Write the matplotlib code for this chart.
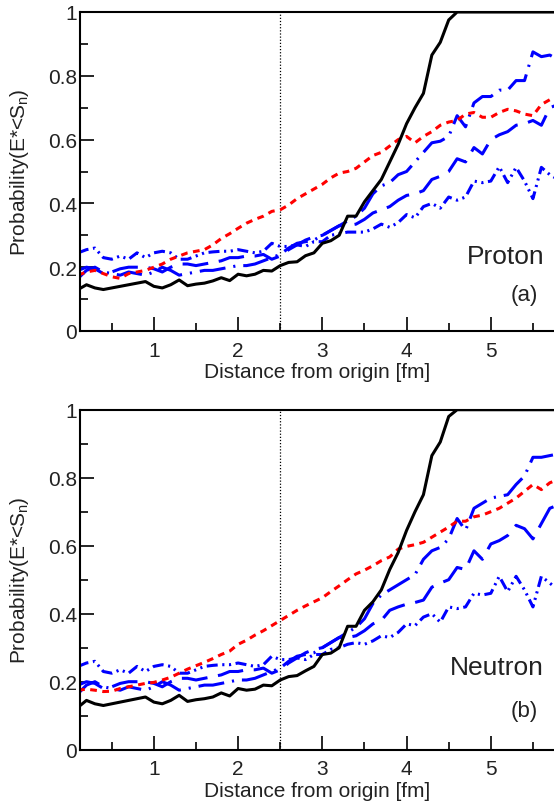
import numpy as np
import matplotlib
matplotlib.use("Agg")
import matplotlib.pyplot as plt
from matplotlib.ticker import MultipleLocator

plt.rcParams['font.family'] = ['Liberation Sans', 'DejaVu Sans']
plt.rcParams['mathtext.fontset'] = 'custom'
plt.rcParams['mathtext.rm'] = 'Liberation Sans'
plt.rcParams['mathtext.it'] = 'Liberation Sans:italic'
plt.rcParams['mathtext.bf'] = 'Liberation Sans:bold'
plt.rcParams['mathtext.default'] = 'regular'

# radial grid [fm]
r = np.round(np.arange(0.1, 5.85, 0.1), 1)

# ---- proton (a) ----
p_black = [0.13, 0.145, 0.135, 0.13, 0.135, 0.14, 0.145, 0.15, 0.155, 0.14,
           0.135, 0.145, 0.16, 0.142, 0.147, 0.15, 0.157, 0.167, 0.158, 0.178,
           0.173, 0.178, 0.19, 0.188, 0.205, 0.215, 0.217, 0.236, 0.245, 0.275,
           0.283, 0.30, 0.36, 0.36, 0.405, 0.44, 0.475, 0.53, 0.585, 0.65,
           0.70, 0.745, 0.865, 0.905, 0.975, 1.0, 1.0, 1.0, 1.0, 1.0,
           1.0, 1.0, 1.0, 1.0, 1.0, 1.0, 1.0, 1.0]
p_red = [0.175, 0.185, 0.19, 0.18, 0.17, 0.165, 0.18, 0.185, 0.19, 0.20,
         0.21, 0.225, 0.235, 0.245, 0.25, 0.255, 0.27, 0.29, 0.305, 0.322,
         0.338, 0.35, 0.36, 0.375, 0.38, 0.395, 0.415, 0.43, 0.445, 0.46,
         0.48, 0.495, 0.50, 0.51, 0.53, 0.55, 0.56, 0.58, 0.60, 0.61,
         0.59, 0.61, 0.625, 0.645, 0.655, 0.66, 0.68, 0.685, 0.67, 0.67,
         0.685, 0.695, 0.69, 0.68, 0.675, 0.71, 0.725, 0.735]
p_dashdot = [0.165, 0.19, 0.20, 0.185, 0.18, 0.175, 0.185, 0.18, 0.175, 0.185,
             0.20, 0.19, 0.175, 0.18, 0.185, 0.19, 0.19, 0.195, 0.20, 0.205,
             0.205, 0.21, 0.22, 0.23, 0.24, 0.26, 0.275, 0.28, 0.285, 0.30,
             0.315, 0.33, 0.345, 0.36, 0.385, 0.43, 0.455, 0.465, 0.49, 0.50,
             0.53, 0.56, 0.59, 0.595, 0.61, 0.675, 0.64, 0.715, 0.735, 0.735,
             0.755, 0.755, 0.785, 0.785, 0.875, 0.86, 0.865, 0.85]
p_longdash = [0.19, 0.20, 0.195, 0.18, 0.185, 0.195, 0.20, 0.20, 0.20, 0.195,
              0.185, 0.20, 0.21, 0.21, 0.205, 0.21, 0.215, 0.22, 0.23, 0.23,
              0.235, 0.235, 0.24, 0.225, 0.235, 0.255, 0.27, 0.285, 0.295, 0.30,
              0.315, 0.33, 0.33, 0.335, 0.35, 0.37, 0.38, 0.39, 0.41, 0.425,
              0.43, 0.44, 0.475, 0.485, 0.50, 0.54, 0.53, 0.575, 0.555, 0.60,
              0.615, 0.625, 0.645, 0.65, 0.66, 0.645, 0.70, 0.71]
p_dashdotdot = [0.245, 0.255, 0.26, 0.23, 0.225, 0.235, 0.225, 0.245, 0.23, 0.245,
                0.25, 0.245, 0.225, 0.225, 0.235, 0.245, 0.248, 0.25, 0.25, 0.255,
                0.25, 0.245, 0.25, 0.275, 0.265, 0.265, 0.27, 0.265, 0.28, 0.28,
                0.30, 0.305, 0.31, 0.31, 0.31, 0.32, 0.335, 0.325, 0.34, 0.365,
                0.355, 0.39, 0.40, 0.385, 0.42, 0.41, 0.42, 0.47, 0.465, 0.47,
                0.515, 0.465, 0.513, 0.47, 0.415, 0.513, 0.49, 0.475]

# ---- neutron (b) ----
n_black = [0.125, 0.145, 0.135, 0.13, 0.135, 0.14, 0.145, 0.15, 0.155, 0.14,
           0.135, 0.145, 0.16, 0.142, 0.147, 0.15, 0.155, 0.167, 0.158, 0.18,
           0.175, 0.178, 0.19, 0.188, 0.205, 0.215, 0.218, 0.232, 0.245, 0.28,
           0.284, 0.30, 0.363, 0.363, 0.41, 0.435, 0.47, 0.53, 0.58, 0.645,
           0.70, 0.75, 0.865, 0.905, 0.98, 1.0, 1.0, 1.0, 1.0, 1.0,
           1.0, 1.0, 1.0, 1.0, 1.0, 1.0, 1.0, 1.0]
n_red = [0.175, 0.178, 0.175, 0.171, 0.172, 0.18, 0.185, 0.19, 0.195, 0.198,
         0.205, 0.213, 0.225, 0.237, 0.247, 0.257, 0.268, 0.28, 0.29, 0.31,
         0.322, 0.337, 0.35, 0.365, 0.38, 0.395, 0.41, 0.423, 0.435, 0.447,
         0.465, 0.482, 0.50, 0.517, 0.528, 0.541, 0.556, 0.567, 0.59, 0.598,
         0.603, 0.61, 0.625, 0.64, 0.655, 0.672, 0.672, 0.685, 0.69, 0.70,
         0.71, 0.725, 0.74, 0.76, 0.78, 0.765, 0.785, 0.795]
n_dashdot = [0.165, 0.19, 0.20, 0.185, 0.18, 0.175, 0.185, 0.18, 0.175, 0.185,
             0.20, 0.19, 0.175, 0.18, 0.185, 0.19, 0.19, 0.195, 0.20, 0.205,
             0.205, 0.21, 0.22, 0.23, 0.24, 0.26, 0.275, 0.28, 0.285, 0.30,
             0.315, 0.33, 0.345, 0.36, 0.385, 0.43, 0.455, 0.47, 0.485, 0.50,
             0.515, 0.56, 0.585, 0.595, 0.62, 0.68, 0.645, 0.71, 0.725, 0.74,
             0.745, 0.75, 0.78, 0.805, 0.86, 0.86, 0.865, 0.87]
n_longdash = [0.19, 0.20, 0.195, 0.18, 0.185, 0.195, 0.20, 0.20, 0.20, 0.195,
              0.185, 0.20, 0.21, 0.21, 0.205, 0.21, 0.215, 0.22, 0.23, 0.23,
              0.235, 0.235, 0.24, 0.225, 0.235, 0.255, 0.27, 0.285, 0.295, 0.30,
              0.315, 0.33, 0.33, 0.335, 0.35, 0.37, 0.38, 0.41, 0.42, 0.428,
              0.433, 0.44, 0.478, 0.49, 0.50, 0.536, 0.53, 0.585, 0.56, 0.605,
              0.615, 0.63, 0.66, 0.65, 0.62, 0.665, 0.71, 0.72]
n_dashdotdot = [0.245, 0.255, 0.26, 0.23, 0.225, 0.235, 0.225, 0.245, 0.23, 0.245,
                0.25, 0.245, 0.225, 0.225, 0.235, 0.245, 0.248, 0.25, 0.25, 0.255,
                0.25, 0.245, 0.25, 0.275, 0.265, 0.265, 0.27, 0.265, 0.28, 0.28,
                0.295, 0.30, 0.31, 0.315, 0.31, 0.32, 0.335, 0.33, 0.345, 0.37,
                0.365, 0.39, 0.40, 0.375, 0.42, 0.415, 0.42, 0.46, 0.455, 0.46,
                0.51, 0.465, 0.51, 0.47, 0.42, 0.51, 0.49, 0.47]

panels = [
    dict(label="Proton", tag="(a)", black=p_black, red=p_red, dd=p_dashdot,
         ld=p_longdash, ddd=p_dashdotdot, ylab=0.235, ytag=0.113),
    dict(label="Neutron", tag="(b)", black=n_black, red=n_red, dd=n_dashdot,
         ld=n_longdash, ddd=n_dashdotdot, ylab=0.243, ytag=0.114),
]

BLUE = "#0000ff"
RED = "#ff0000"
LW = 2.2
TXT = "#222222"

fig = plt.figure(figsize=(5.54, 8.03), dpi=100)
rects = [[80 / 554, 1 - 332 / 803, 1 - 80 / 554, (332 - 13) / 803],
         [80 / 554, 1 - 750.7 / 803, 1 - 80 / 554, (750.7 - 410.7) / 803]]

for rect, p in zip(rects, panels):
    ax = fig.add_axes(rect)
    ax.axvline(2.5, color="black", lw=0.9, ls=(0, (1, 1.5)))
    ax.plot(r, p["ddd"], color=BLUE, lw=LW, dashes=(3.6, 1.5, 0.7, 1.5, 0.7, 1.5))
    ax.plot(r, p["ld"], color=BLUE, lw=LW, dashes=(8.5, 3.5))
    ax.plot(r, p["dd"], color=BLUE, lw=LW, dashes=(8.5, 2.6, 0.7, 2.6))
    ax.plot(r, p["red"], color=RED, lw=LW, dashes=(2.2, 1.8))
    ax.plot(r, p["black"], color="black", lw=LW)

    ax.set_xlim(0.123, 5.75)
    ax.set_ylim(0, 1)
    ax.xaxis.set_major_locator(MultipleLocator(1))
    ax.xaxis.set_minor_locator(MultipleLocator(0.5))
    ax.yaxis.set_minor_locator(MultipleLocator(0.1))
    ax.set_yticks([0, 0.2, 0.4, 0.6, 0.8, 1.0])
    ax.set_yticklabels(["0", "0.2", "0.4", "0.6", "0.8", "1"])
    ax.tick_params(axis="both", which="both", direction="in", top=False,
                   right=False, colors="black", labelcolor=TXT, labelsize=15)
    ax.tick_params(axis="y", which="major", length=10, width=1.2, pad=2)
    ax.tick_params(axis="y", which="minor", length=6, width=1.2)
    ax.tick_params(axis="x", which="major", length=10, width=1.2, pad=7)
    ax.tick_params(axis="x", which="minor", length=6, width=1.2)
    for s in ("left", "bottom", "top"):
        ax.spines[s].set_linewidth(1.5)
    ax.spines["right"].set_visible(False)

    ax.set_xlabel("Distance from origin [fm]", fontsize=15, color=TXT, labelpad=2)
    ax.set_ylabel("Probability(E*<S$_n$)", fontsize=15, color=TXT, labelpad=12)
    ax.text(0.979, p["ylab"], p["label"], transform=ax.transAxes, ha="right",
            va="center", fontsize=19, color=TXT)
    ax.text(0.966, p["ytag"], p["tag"], transform=ax.transAxes, ha="right",
            va="center", fontsize=16, color=TXT)

fig.savefig("out.png", dpi=100)
